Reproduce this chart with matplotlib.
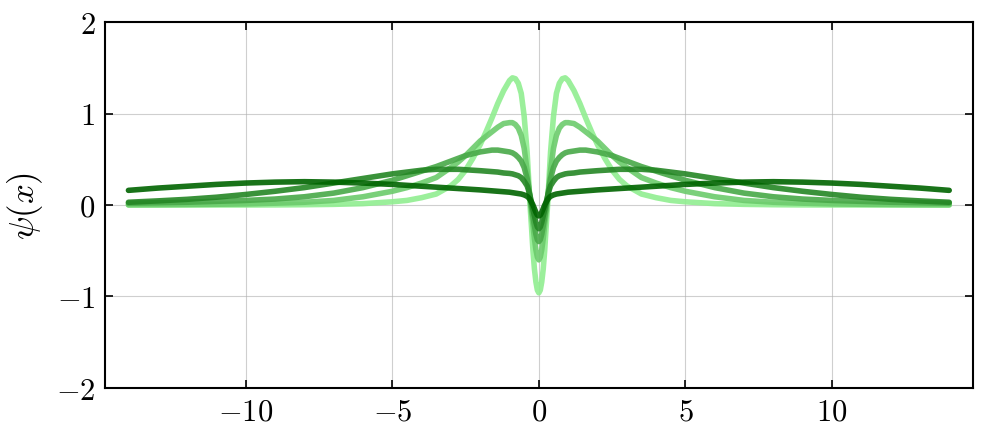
"""
Bound-state wavefunctions psi(x) for several coupling strengths.
"""

import numpy as np
import matplotlib
matplotlib.use("Agg")
import matplotlib.pyplot as plt

plt.rcParams["font.family"] = "serif"
plt.rcParams["font.serif"] = ["cmr10", "DejaVu Serif"]
plt.rcParams["mathtext.fontset"] = "cm"
plt.rcParams["axes.formatter.use_mathtext"] = True

# half-grid (x >= 0); curves are symmetric, mirrored below
x_half = [0, 0.05, 0.1, 0.15, 0.2, 0.25, 0.3, 0.35, 0.4, 0.5, 0.6, 0.7,
          0.8, 0.9, 1.0, 1.2, 1.4, 1.6, 1.8, 2.0, 2.25, 2.5, 2.75, 3.0,
          3.5, 4.0, 4.5, 5, 6, 7, 8, 9, 10, 11, 12, 13, 14]

psi_1 = [-0.96, -0.93, -0.84, -0.70, -0.50, -0.24, 0.00, 0.30, 0.58, 0.97,
         1.22, 1.33, 1.38, 1.39, 1.36, 1.25, 1.11, 0.95, 0.80, 0.66, 0.51,
         0.38, 0.28, 0.21, 0.12, 0.08, 0.05, 0.035, 0.015, 0.007, 0.003,
         0.001, 0.0, 0.0, 0.0, 0.0, 0.0]
psi_2 = [-0.60, -0.57, -0.49, -0.37, -0.22, -0.08, 0.07, 0.22, 0.38, 0.62,
         0.76, 0.84, 0.88, 0.90, 0.90, 0.89, 0.85, 0.80, 0.75, 0.70, 0.62,
         0.54, 0.47, 0.41, 0.30, 0.24, 0.19, 0.15, 0.09, 0.05, 0.03, 0.02,
         0.012, 0.008, 0.005, 0.003, 0.002]
psi_3 = [-0.40, -0.38, -0.32, -0.23, -0.13, -0.02, 0.09, 0.20, 0.29, 0.41,
         0.48, 0.52, 0.55, 0.57, 0.58, 0.59, 0.60, 0.60, 0.59, 0.58, 0.56,
         0.54, 0.51, 0.48, 0.42, 0.37, 0.32, 0.27, 0.19, 0.13, 0.09, 0.065,
         0.05, 0.04, 0.03, 0.025, 0.02]
psi_4 = [-0.26, -0.24, -0.19, -0.12, -0.05, 0.03, 0.10, 0.16, 0.21, 0.26,
         0.30, 0.32, 0.33, 0.34, 0.345, 0.35, 0.36, 0.365, 0.37, 0.375, 0.38,
         0.385, 0.39, 0.39, 0.39, 0.38, 0.36, 0.34, 0.29, 0.24, 0.19, 0.15,
         0.115, 0.085, 0.062, 0.045, 0.03]
psi_5 = [-0.12, -0.11, -0.08, -0.04, 0.00, 0.03, 0.06, 0.08, 0.095, 0.11,
         0.12, 0.125, 0.13, 0.135, 0.14, 0.145, 0.15, 0.155, 0.16, 0.165,
         0.17, 0.175, 0.18, 0.185, 0.195, 0.205, 0.215, 0.225, 0.24, 0.25,
         0.255, 0.25, 0.24, 0.225, 0.205, 0.185, 0.16]

curves = [psi_1, psi_2, psi_3, psi_4, psi_5]
colors = ["#90ee90", "#6ccb6c", "#48a948", "#248624", "#006400"]


def mirror(vals):
    vals = np.asarray(vals, dtype=float)
    return np.concatenate([vals[:0:-1], vals])


x = np.concatenate([-np.asarray(x_half[:0:-1]), np.asarray(x_half)])

fig = plt.figure(figsize=(9.97, 4.39), dpi=100)
ax = fig.add_axes([0.1053, 0.1139, 0.8703, 0.8337])

for psi, color in zip(curves, colors):
    ax.plot(x, mirror(psi), color=color, linewidth=4.0, alpha=0.9,
            solid_capstyle="round", solid_joinstyle="round")

ax.set_xlim(-14.8, 14.8)
ax.set_ylim(-2, 2)
ax.set_xticks([-10, -5, 0, 5, 10])
ax.set_yticks([-2, -1, 0, 1, 2])
ax.set_ylabel(r"$\psi(x)$", fontsize=25, labelpad=8)
ax.grid(True, color="#b0b0b0", linewidth=0.8, alpha=0.6)
ax.tick_params(direction="in", top=True, right=True, length=6, width=1.2,
               labelsize=22, pad=7)
for s in ax.spines.values():
    s.set_linewidth(1.5)

plt.savefig("out.png", dpi=100)
